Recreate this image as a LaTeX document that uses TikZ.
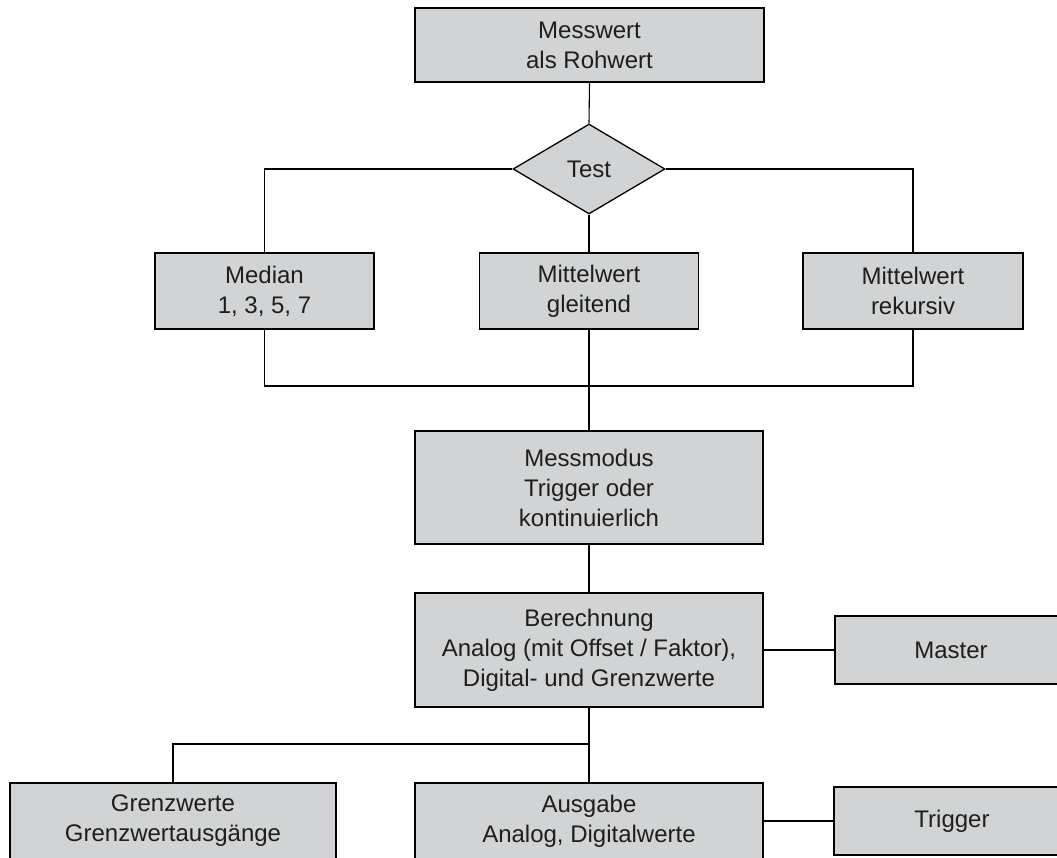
\documentclass[tikz,border=0pt]{standalone}
\usepackage{fontspec}
\setmainfont{Liberation Sans}
\usetikzlibrary{shapes.geometric}
\definecolor{boxfill}{RGB}{209,211,212}
\definecolor{txt}{RGB}{30,30,30}
\begin{document}
\begin{tikzpicture}[x=1pt,y=-1pt,
  box/.style={draw=black, line width=1.3pt, fill=boxfill, text=txt, align=center,
    inner sep=0pt, font=\fontsize{24}{30}\selectfont},
  dia/.style={draw=black, line width=1.3pt, fill=boxfill, text=txt, shape=diamond,
    inner sep=0pt, aspect=1.69, font=\fontsize{24}{30}\selectfont},
  wire/.style={draw=black, line width=1.1pt}]
\useasboundingbox (0,0) rectangle (1057,858);
\clip (0,0) rectangle (1057,858);
\node[box, minimum width=349pt, minimum height=74pt] (mw) at (589.5,45) {Messwert\\als Rohwert};
\node[dia, minimum width=152pt, minimum height=90pt] (test) at (589,169) {Test};
\node[box, minimum width=219pt, minimum height=76pt] (med) at (264.5,291) {Median\\1, 3, 5, 7};
\node[box, minimum width=219pt, minimum height=76pt] (glt) at (589,291) {Mittelwert\\gleitend};
\node[box, minimum width=220pt, minimum height=76pt] (rek) at (913,291) {Mittelwert\\rekursiv};
\node[box, minimum width=348pt, minimum height=113pt] (mm) at (589,487.5) {Messmodus\\Trigger oder\\kontinuierlich};
\node[box, minimum width=348pt, minimum height=114pt] (ber) at (589,650) {Berechnung\\Analog (mit Offset / Faktor),\\Digital- und Grenzwerte};
\node[box, minimum width=232pt, minimum height=68pt] (mas) at (951,650) {Master};
\node[box, minimum width=326pt, minimum height=76pt] (grz) at (173,821) {Grenzwerte\\Grenzwertausgänge};
\node[box, minimum width=348pt, minimum height=76pt] (aus) at (589,821) {Ausgabe\\Analog, Digitalwerte};
\node[box, minimum width=236pt, minimum height=68pt] (trg) at (952,821) {Trigger};
\coordinate (bus1) at (589,386);
\coordinate (bus2) at (589,744);
\draw[wire] (mw.south) -- (test.north);
\draw[wire] (test.west) -| (med.north);
\draw[wire] (test.east) -| (rek.north);
\draw[wire] (test.south) -- (glt.north);
\draw[wire] (med.south) |- (bus1);
\draw[wire] (rek.south) |- (bus1);
\draw[wire] (glt.south) -- (mm.north);
\draw[wire] (mm.south) -- (ber.north);
\draw[wire] (ber.east) -- (mas.west);
\draw[wire] (ber.south) -- (aus.north);
\draw[wire] (bus2) -| (grz.north);
\draw[wire] (aus.east) -- (trg.west);
\end{tikzpicture}
\end{document}
